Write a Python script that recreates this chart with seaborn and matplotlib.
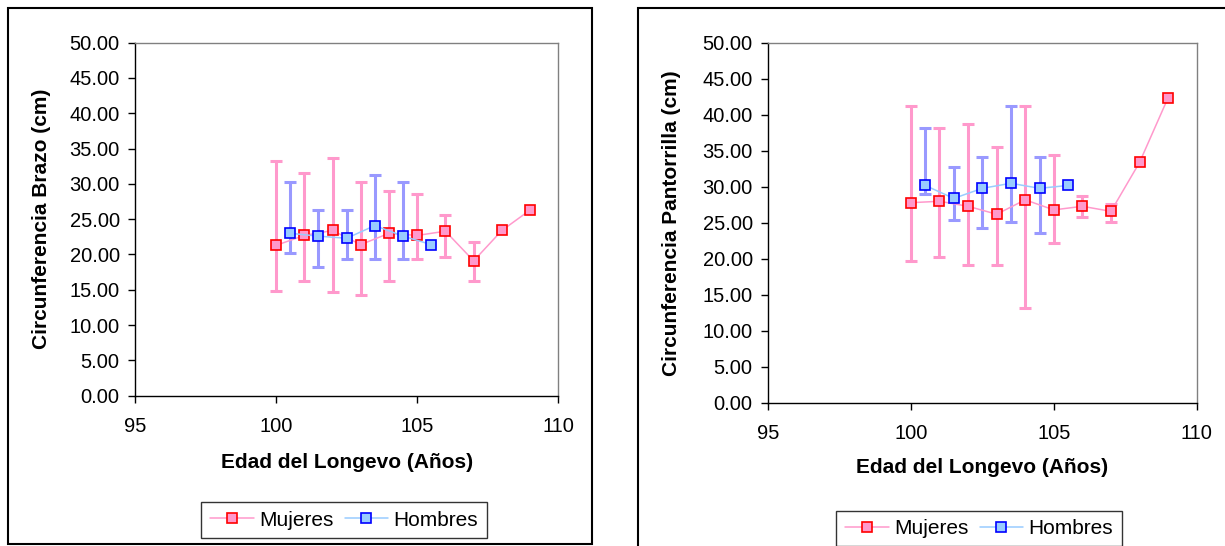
import numpy as np
import pandas as pd
import matplotlib
matplotlib.use("Agg")
import matplotlib.pyplot as plt
import seaborn as sns
from matplotlib.patches import Rectangle
from matplotlib.lines import Line2D

# ---------------- data ----------------
edad_mujeres = [100, 101, 102, 103, 104, 105, 106, 107, 108, 109]
edad_hombres = [100.5, 101.5, 102.5, 103.5, 104.5, 105.5]

brazo_muj_media = [21.3, 22.7, 23.4, 21.4, 23.0, 22.7, 23.3, 19.1, 23.4, 26.3]
brazo_muj_sup = [33.2, 31.6, 33.7, 30.3, 29.0, 28.5, 25.6, 21.7, np.nan, np.nan]
brazo_muj_inf = [14.9, 16.3, 14.7, 14.3, 16.3, 19.3, 19.7, 16.3, np.nan, np.nan]
brazo_hom_media = [23.0, 22.6, 22.3, 24.1, 22.6, 21.4]
brazo_hom_sup = [30.3, 26.3, 26.3, 31.3, 30.3, np.nan]
brazo_hom_inf = [20.2, 18.3, 19.3, 19.3, 19.3, np.nan]

pant_muj_media = [27.8, 28.0, 27.3, 26.2, 28.2, 26.8, 27.3, 26.6, 33.4, 42.4]
pant_muj_sup = [41.2, 38.2, 38.7, 35.5, 41.2, 34.4, 28.8, 27.6, np.nan, np.nan]
pant_muj_inf = [19.7, 20.2, 19.1, 19.1, 13.2, 22.2, 25.8, 25.1, np.nan, np.nan]
pant_hom_media = [30.2, 28.4, 29.8, 30.5, 29.8, 30.2]
pant_hom_sup = [38.2, 32.8, 34.2, 41.2, 34.2, np.nan]
pant_hom_inf = [29.0, 25.4, 24.3, 25.1, 23.6, np.nan]

x_ticks = [95, 100, 105, 110]
y_ticks = [0, 5, 10, 15, 20, 25, 30, 35, 40, 45, 50]
series_labels = ["Mujeres", "Hombres"]
x_label = "Edad del Longevo (Años)"
y_labels = ["Circunferencia Brazo (cm)", "Circunferencia Pantorrilla (cm)"]

# ---------------- style ----------------
sns.set_theme(style="white")
plt.rcParams['font.family'] = ['Liberation Sans', 'DejaVu Sans']
plt.rcParams['text.color'] = 'black'
plt.rcParams['axes.labelcolor'] = 'black'
plt.rcParams['xtick.color'] = 'black'
plt.rcParams['ytick.color'] = 'black'

PINK_ERR = '#FF99CC'
BLUE_ERR = '#9999FF'
PINK_LINE = '#FF99CC'
BLUE_LINE = '#99CCFF'
MS = 7

W, H = 1225, 546
fig = plt.figure(figsize=(W / 100, H / 100), dpi=100)
fig.patch.set_facecolor('white')


def px_axes(l, t, r, b):
    return fig.add_axes([l / W, 1 - b / H, (r - l) / W, (b - t) / H])


def draw_err(ax, x, m, hi, lo, color):
    x = np.asarray(x, float); m = np.asarray(m, float)
    hi = np.asarray(hi, float); lo = np.asarray(lo, float)
    ok = ~np.isnan(hi)
    ax.errorbar(x[ok], m[ok], yerr=[m[ok] - lo[ok], hi[ok] - m[ok]], fmt='none',
                ecolor=color, elinewidth=2.2, capsize=4, capthick=2.2, zorder=2)


def panel(ax, mm, ms, mi, hm, hs, hi_, ylab, xlab_y, ylab_x):
    draw_err(ax, edad_mujeres, mm, ms, mi, PINK_ERR)
    draw_err(ax, edad_hombres, hm, hs, hi_, BLUE_ERR)
    sns.lineplot(x=edad_mujeres, y=mm, ax=ax, color=PINK_LINE, lw=1.1,
                 marker='s', markersize=MS, markerfacecolor='#FF99CC',
                 markeredgecolor='#FF0000', markeredgewidth=1.2, zorder=4,
                 estimator=None, legend=False)
    sns.lineplot(x=edad_hombres, y=hm, ax=ax, color=BLUE_LINE, lw=1.1,
                 marker='s', markersize=MS, markerfacecolor='#99CCFF',
                 markeredgecolor='#0000FF', markeredgewidth=1.2, zorder=4,
                 estimator=None, legend=False)
    ax.set_xlim(95, 110)
    ax.set_ylim(0, 50)
    ax.set_xticks(x_ticks)
    ax.set_xticklabels([str(v) for v in x_ticks])
    ax.set_yticks(y_ticks)
    ax.set_yticklabels([f"{v:.2f}" for v in y_ticks])
    ax.tick_params(axis='both', which='major', bottom=True, left=True,
                   direction='out', length=5, width=1, labelsize=14.5)
    ax.tick_params(axis='y', pad=6)
    ax.tick_params(axis='x', pad=10)
    for s in ['top', 'right']:
        ax.spines[s].set_color('#808080')
        ax.spines[s].set_linewidth(1)
    for s in ['left', 'bottom']:
        ax.spines[s].set_color('black')
        ax.spines[s].set_linewidth(1)
    ax.set_facecolor('white')
    ax.set_xlabel(x_label, fontsize=15, fontweight='bold')
    ax.set_ylabel(ylab, fontsize=15, fontweight='bold')
    ax.xaxis.set_label_coords(0.5, xlab_y)
    ax.yaxis.set_label_coords(ylab_x, 0.5)


# panel frames
fig.patches.append(Rectangle((8 / W, 1 - 544 / H), (592 - 8) / W, (544 - 8) / H,
                             transform=fig.transFigure, fill=False,
                             edgecolor='black', lw=1.5, zorder=0))
fig.patches.append(Rectangle((638 / W, 1 - 600 / H), (1300 - 638) / W, (600 - 8) / H,
                             transform=fig.transFigure, fill=False,
                             edgecolor='black', lw=1.5, zorder=0))

ax1 = px_axes(135, 42.7, 558.3, 395.7)
panel(ax1, brazo_muj_media, brazo_muj_sup, brazo_muj_inf,
      brazo_hom_media, brazo_hom_sup, brazo_hom_inf, y_labels[0], -0.163, -0.198)

ax2 = px_axes(768, 43, 1196.7, 402.7)
panel(ax2, pant_muj_media, pant_muj_sup, pant_muj_inf,
      pant_hom_media, pant_hom_sup, pant_hom_inf, y_labels[1], -0.155, -0.203)

handles = [
    Line2D([], [], color=PINK_LINE, lw=1.1, marker='s', markersize=MS,
           markerfacecolor='#FF99CC', markeredgecolor='#FF0000', markeredgewidth=1.2),
    Line2D([], [], color=BLUE_LINE, lw=1.1, marker='s', markersize=MS,
           markerfacecolor='#99CCFF', markeredgecolor='#0000FF', markeredgewidth=1.2),
]

for cx, cy in [(344, 520), (979, 528.5)]:
    leg = fig.legend(handles, series_labels, loc='center',
                     bbox_to_anchor=(cx / W, 1 - cy / H), ncol=2, frameon=True,
                     fancybox=False, edgecolor='black', fontsize=15,
                     handlelength=2.1, columnspacing=0.55, handletextpad=0.25,
                     borderpad=0.4, borderaxespad=0)
    leg.get_frame().set_linewidth(1.0)

fig.savefig("out.png", dpi=100, facecolor='white')
